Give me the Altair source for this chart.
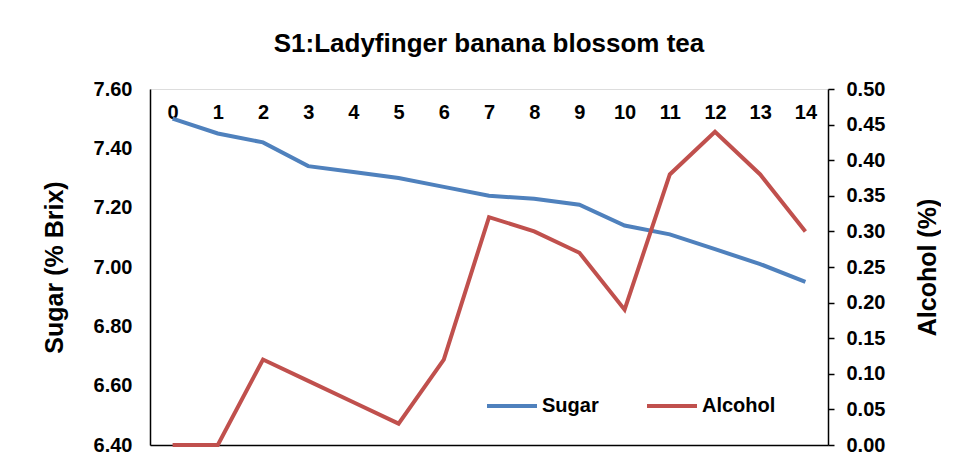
import altair as alt
import pandas as pd

days = list(range(15))
sugar = [7.50, 7.45, 7.42, 7.34, 7.32, 7.30, 7.27, 7.24, 7.23, 7.21, 7.14, 7.11, 7.06, 7.01, 6.95]
alcohol = [0.00, 0.00, 0.12, 0.09, 0.06, 0.03, 0.12, 0.32, 0.30, 0.27, 0.19, 0.38, 0.44, 0.38, 0.30]
series_names = ["Sugar", "Alcohol"]
series_colors = ["#4F81BD", "#C0504D"]

rows = []
for d, s in zip(days, sugar):
    rows.append({"day": d, "series": "Sugar", "value": s})
for d, a in zip(days, alcohol):
    rows.append({"day": d, "series": "Alcohol", "value": a})
df = pd.DataFrame(rows)

FONT = "Liberation Sans"
TICK_FS = 20
AXT_FS = 25

color = alt.Color(
    "series:N",
    scale=alt.Scale(domain=series_names, range=series_colors),
    legend=alt.Legend(
        title=None, orient="none", legendX=335, legendY=290, direction="horizontal",
        symbolType="stroke", symbolSize=2500, symbolStrokeWidth=4,
        labelFont=FONT, labelFontSize=TICK_FS, labelFontWeight="bold", labelColor="#000",
        labelOffset=3, columnPadding=40,
    ),
)

xscale = alt.Scale(type="point", padding=0.5)

sugar_layer = alt.Chart(df).transform_filter(alt.datum.series == "Sugar").mark_line(strokeWidth=4).encode(
    x=alt.X("day:O", scale=xscale, axis=alt.Axis(
        orient="bottom", labels=False, ticks=False, title=None,
        domainColor="#000", domainWidth=1.5)),
    y=alt.Y("value:Q", scale=alt.Scale(domain=[6.4, 7.6], nice=False, zero=False),
            axis=alt.Axis(title="Sugar (% Brix)", values=[6.4, 6.6, 6.8, 7.0, 7.2, 7.4, 7.6],
                          format=".2f", orient="left", grid=False, ticks=False,
                          domainColor="#000", domainWidth=1.5,
                          labelFont=FONT, labelFontSize=TICK_FS, labelFontWeight="bold", labelColor="#000",
                          labelPadding=18,
                          titleFont=FONT, titleFontSize=AXT_FS, titleFontWeight="bold", titleColor="#000",
                          titlePadding=26)),
    color=color,
)

alcohol_layer = alt.Chart(df).transform_filter(alt.datum.series == "Alcohol").mark_line(strokeWidth=4).encode(
    x=alt.X("day:O", scale=xscale, axis=alt.Axis(
        orient="top", domain=False, ticks=False, title=None, labelAngle=0,
        labelFont=FONT, labelFontSize=TICK_FS, labelFontWeight="bold", labelColor="#000",
        labelPadding=-33)),
    y=alt.Y("value:Q", scale=alt.Scale(domain=[0, 0.5], nice=False),
            axis=alt.Axis(title="Alcohol (%)", values=[0, 0.05, 0.1, 0.15, 0.2, 0.25, 0.3, 0.35, 0.4, 0.45, 0.5],
                          format=".2f", orient="right", grid=False, ticks=True, tickSize=6,
                          tickColor="#000", tickWidth=1.5,
                          domainColor="#000", domainWidth=1.5,
                          labelFont=FONT, labelFontSize=TICK_FS, labelFontWeight="bold", labelColor="#000",
                          labelPadding=12,
                          titleFont=FONT, titleFontSize=AXT_FS, titleFontWeight="bold", titleColor="#000",
                          titleAngle=270, titlePadding=56)),
    color=color,
)

chart = alt.layer(sugar_layer, alcohol_layer).resolve_scale(y="independent").resolve_axis(
    x="independent", y="independent"
).properties(
    width=678, height=356,
    title=alt.TitleParams("S1:Ladyfinger banana blossom tea", font=FONT, fontSize=26,
                          fontWeight="bold", color="#000", offset=22),
    padding={"left": 34, "top": 23, "right": 0, "bottom": 5},
).configure_view(stroke="#d9d9d9").configure(background="white")

chart.save("out.html", embed_options={"renderer": "svg", "actions": False})
